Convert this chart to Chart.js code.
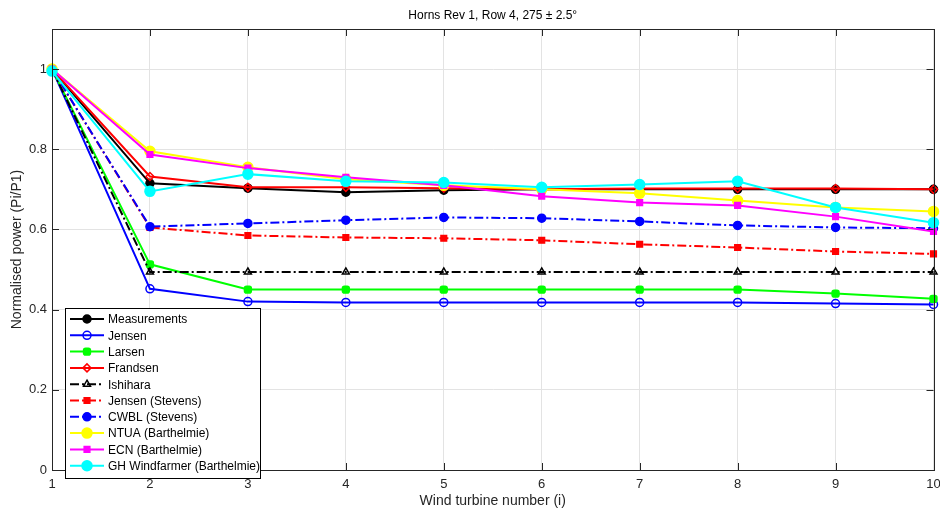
<!DOCTYPE html>
<html>
<head>
<meta charset="utf-8">
<script src="https://cdn.jsdelivr.net/npm/chart.js@4/dist/chart.umd.min.js"></script>
<style>
  html, body { margin: 0; padding: 0; background: #fff; }
  #wrap { width: 940px; height: 514px; }
</style>
</head>
<body>
<div id="wrap"><canvas id="chart" width="940" height="514"></canvas></div>
<script>
// turbine numbers along the row
const turbines = [1, 2, 3, 4, 5, 6, 7, 8, 9, 10];

// normalised power Pi/P1 per model
const measurements = [1.0, 0.715, 0.703, 0.693, 0.698, 0.700, 0.700, 0.700, 0.700, 0.700];
const jensen = [1.0, 0.452, 0.420, 0.418, 0.418, 0.418, 0.418, 0.418, 0.415, 0.413];
const larsen = [1.0, 0.513, 0.450, 0.450, 0.450, 0.450, 0.450, 0.450, 0.440, 0.427];
const frandsen = [1.0, 0.732, 0.705, 0.705, 0.703, 0.700, 0.702, 0.702, 0.702, 0.700];
const ishihara = [1.0, 0.494, 0.494, 0.494, 0.494, 0.494, 0.494, 0.494, 0.494, 0.494];
const jensenStevens = [1.0, 0.605, 0.585, 0.580, 0.578, 0.573, 0.563, 0.555, 0.545, 0.539];
const cwblStevens = [1.0, 0.607, 0.615, 0.623, 0.630, 0.628, 0.620, 0.610, 0.605, 0.603];
const ntua = [1.0, 0.795, 0.755, 0.725, 0.710, 0.700, 0.690, 0.672, 0.655, 0.645];
const ecn = [1.0, 0.787, 0.753, 0.730, 0.710, 0.683, 0.667, 0.660, 0.632, 0.595];
const ghWindfarmer = [0.995, 0.695, 0.738, 0.720, 0.717, 0.705, 0.712, 0.720, 0.655, 0.617];

const yTicks = [0, 0.2, 0.4, 0.6, 0.8, 1];

const dashDot = [9, 3, 2, 3];
const FONT = '"Liberation Sans", Arial, Helvetica, sans-serif';
const AXIS = '#262626';

function series(label, values, color, style, filled, dash, radius) {
  return {
    label: label,
    data: values.map((v, i) => ({ x: turbines[i], y: v })),
    borderColor: color,
    backgroundColor: filled ? color : 'rgba(0,0,0,0)',
    pointBorderColor: color,
    pointBackgroundColor: filled ? color : 'rgba(0,0,0,0)',
    pointStyle: style,
    pointRadius: radius || 4,
    pointBorderWidth: 1.5,
    borderWidth: 2,
    borderDash: dash || [],
    tension: 0,
    fill: false,
    clip: false
  };
}

const datasets = [
  series('Measurements', measurements, '#000000', 'circle', true),
  series('Jensen', jensen, '#0000ff', 'circle', false),
  series('Larsen', larsen, '#00ff00', 'rectRounded', true),
  series('Frandsen', frandsen, '#ff0000', 'rectRot', false),
  series('Ishihara', ishihara, '#000000', 'triangle', false, dashDot),
  series('Jensen (Stevens)', jensenStevens, '#ff0000', 'rect', true, dashDot),
  series('CWBL (Stevens)', cwblStevens, '#0000ff', 'circle', true, dashDot),
  series('NTUA (Barthelmie)', ntua, '#ffff00', 'circle', true, null, 5),
  series('ECN (Barthelmie)', ecn, '#ff00ff', 'rect', true),
  series('GH Windfarmer (Barthelmie)', ghWindfarmer, '#00ffff', 'circle', true, null, 5)
];
// later series on top, like the original plot
datasets.forEach((d, i) => { d.order = datasets.length - i; });

// box around the plot with inward tick marks
const boxPlugin = {
  id: 'box',
  afterDatasetsDraw(chart) {
    const { ctx, chartArea: a, scales } = chart;
    ctx.save();
    ctx.strokeStyle = AXIS;
    ctx.lineWidth = 1;
    ctx.beginPath();
    scales.x.ticks.forEach(t => {
      const px = Math.round(scales.x.getPixelForValue(t.value)) + 0.5;
      ctx.moveTo(px, a.bottom); ctx.lineTo(px, a.bottom - 7);
      ctx.moveTo(px, a.top); ctx.lineTo(px, a.top + 7);
    });
    scales.y.ticks.forEach(t => {
      const py = Math.round(scales.y.getPixelForValue(t.value)) + 0.5;
      ctx.moveTo(a.left, py); ctx.lineTo(a.left + 7, py);
      ctx.moveTo(a.right, py); ctx.lineTo(a.right - 7, py);
    });
    ctx.stroke();
    ctx.strokeRect(Math.round(a.left) + 0.5, Math.round(a.top) + 0.5,
      Math.round(a.right - a.left), Math.round(a.bottom - a.top));
    ctx.restore();
  }
};

// legend drawn inside the plot, bottom left
const legendBox = {
  id: 'legendBox',
  afterDraw(chart) {
    const { ctx } = chart;
    const left = 65, top = 308, w = 195, rowH = 16.3;
    const list = chart.data.datasets;
    const h = list.length * rowH + 7;
    ctx.save();
    ctx.fillStyle = '#ffffff';
    ctx.fillRect(left, top, w, h);
    ctx.strokeStyle = '#000000';
    ctx.lineWidth = 1;
    ctx.strokeRect(left + 0.5, top + 0.5, w, h);
    ctx.font = '12px ' + FONT;
    ctx.textBaseline = 'middle';
    list.forEach((d, i) => {
      const y = top + 11 + i * rowH;
      ctx.strokeStyle = d.borderColor;
      ctx.lineWidth = d.borderWidth;
      ctx.setLineDash(d.borderDash);
      ctx.beginPath();
      ctx.moveTo(left + 5, y);
      ctx.lineTo(left + 39, y);
      ctx.stroke();
      ctx.setLineDash([]);
      ctx.fillStyle = d.pointBackgroundColor;
      ctx.strokeStyle = d.pointBorderColor;
      ctx.lineWidth = d.pointBorderWidth;
      Chart.helpers.drawPoint(ctx, {
        pointStyle: d.pointStyle, radius: d.pointRadius, rotation: 0, borderWidth: d.pointBorderWidth
      }, left + 22, y);
      ctx.fillStyle = '#000000';
      ctx.fillText(d.label, left + 43, y + 1);
    });
    ctx.restore();
  }
};

new Chart(document.getElementById('chart'), {
  type: 'line',
  data: { datasets: datasets },
  plugins: [boxPlugin, legendBox],
  options: {
    responsive: false,
    animation: false,
    layout: { padding: { left: 0, right: 3, top: 0, bottom: 0 } },
    plugins: {
      legend: { display: false },
      tooltip: { enabled: false },
      title: {
        display: true,
        fullSize: false,
        text: 'Horns Rev 1, Row 4, 275 ± 2.5°',
        color: '#000000',
        font: { family: FONT, size: 12, weight: 'normal', lineHeight: 1.2 },
        padding: { top: 8, bottom: 6.6 }
      }
    },
    scales: {
      x: {
        type: 'linear',
        min: 1,
        max: 10,
        afterFit(s) { s.height = 44; s.paddingLeft = 0; s.paddingRight = 0; },
        afterBuildTicks(s) { s.ticks = turbines.map(v => ({ value: v })); },
        grid: { color: '#e3e3e3', lineWidth: 1, drawTicks: false },
        border: { display: true, color: AXIS, width: 1 },
        ticks: {
          color: AXIS, padding: 7, maxRotation: 0,
          font: { family: FONT, size: 13 },
          callback: v => String(v)
        },
        title: {
          display: true,
          text: 'Wind turbine number (i)',
          color: AXIS,
          font: { family: FONT, size: 14 },
          padding: { top: 0, bottom: 4 }
        }
      },
      y: {
        min: 0,
        max: 1.1,
        afterFit(s) { s.width = 52; s.paddingTop = 0; s.paddingBottom = 0; },
        afterBuildTicks(s) { s.ticks = yTicks.map(v => ({ value: v })); },
        grid: { color: '#e3e3e3', lineWidth: 1, drawTicks: false },
        border: { display: true, color: AXIS, width: 1 },
        ticks: {
          color: AXIS, padding: 5,
          font: { family: FONT, size: 13 },
          callback: v => String(Math.round(v * 10) / 10)
        },
        title: {
          display: true,
          text: 'Normalised power (Pi/P1)',
          color: AXIS,
          font: { family: FONT, size: 14 },
          padding: { top: 9, bottom: 0 }
        }
      }
    }
  }
});
</script>
</body>
</html>
